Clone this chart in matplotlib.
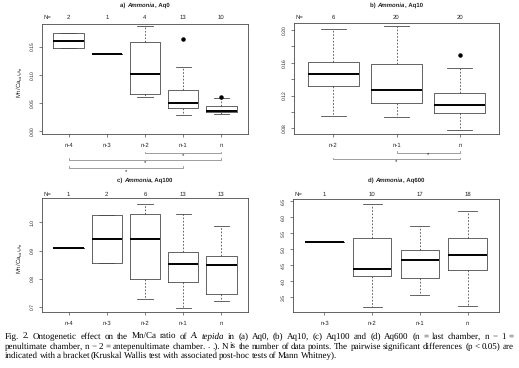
import matplotlib
matplotlib.use('Agg')
import matplotlib.pyplot as plt
from matplotlib import transforms

# ---------------- data ----------------
a_labels = ['n-4', 'n-3', 'n-2', 'n-1', 'n']
a_N = ['2', '1', '4', '13', '10']
a_lo = [0.1482, 0.1369, 0.0603, 0.0275, 0.0305]
a_q1 = [0.1482, 0.1369, 0.0657, 0.0406, 0.0341]
a_med = [0.1602, 0.1369, 0.1004, 0.0490, 0.0359]
a_q3 = [0.1733, 0.1369, 0.1584, 0.0735, 0.0442]
a_hi = [0.1733, 0.1369, 0.1865, 0.1135, 0.0586]
a_fliers = [[], [], [], [0.1631], [0.0610]]

b_labels = ['n-2', 'n-1', 'n']
b_N = ['6', '20', '20']
b_lo = [0.0950, 0.0938, 0.0784]
b_q1 = [0.1323, 0.1108, 0.0983]
b_med = [0.1469, 0.1266, 0.1080]
b_q3 = [0.1615, 0.1582, 0.1230]
b_hi = [0.2016, 0.2049, 0.1534]
b_fliers = [[], [], [0.1696]]

c_labels = ['n-4', 'n-3', 'n-2', 'n-1', 'n']
c_N = ['1', '2', '6', '13', '13']
c_lo = [0.9083, 0.8571, 0.7298, 0.6976, 0.7226]
c_q1 = [0.9083, 0.8571, 0.7976, 0.7869, 0.7476]
c_med = [0.9083, 0.9429, 0.9429, 0.8524, 0.8488]
c_q3 = [0.9083, 1.0262, 1.0286, 0.8964, 0.8821]
c_hi = [0.9083, 1.0262, 1.0667, 1.0298, 0.9893]
c_fliers = [[], [], [], [], []]

d_labels = ['n-3', 'n-2', 'n-1', 'n']
d_N = ['1', '10', '17', '18']
d_lo = [5.22, 3.19, 3.56, 3.22]
d_q1 = [5.22, 4.16, 4.10, 4.36]
d_med = [5.22, 4.385, 4.68, 4.83]
d_q3 = [5.22, 5.36, 4.98, 5.36]
d_hi = [5.22, 6.42, 5.73, 6.19]
d_fliers = [[], [], [], []]

a_yticks = [0.00, 0.05, 0.10, 0.15]
a_yticklabels = ['0.00', '0.05', '0.10', '0.15']
b_yticks = [0.08, 0.10, 0.12, 0.14, 0.16, 0.18, 0.20]
b_yticklabels = ['0.08', '', '0.12', '', '0.16', '', '0.20']
c_yticks = [0.7, 0.8, 0.9, 1.0]
c_yticklabels = ['0.7', '0.8', '0.9', '1.0']
d_yticks = [3.5, 4.0, 4.5, 5.0, 5.5, 6.0, 6.5]
d_yticklabels = ['3.5', '4.0', '4.5', '5.0', '5.5', '6.0', '6.5']

# significance brackets: (from, to) group positions
a_brackets = [(3, 5), (1, 5), (1, 4)]
b_brackets = [(2, 3), (1, 3)]

titles = [("a) ", "Ammonia", ", Aq0"), ("b) ", "Ammonia", ", Aq10"),
          ("c) ", "Ammonia", ", Aq100"), ("d) ", "Ammonia", ", Aq600")]

caption = [
    "Fig. 2. Ontogenetic effect on the Mn/Ca ratio of _A. _tepida in (a) Aq0, (b) Aq10, (c) Aq100 and (d) Aq600 (n = last chamber, n \u2212 1 =",
    "penultimate chamber, n \u2212 2 = antepenultimate chamber. . .). N is the number of data points. The pairwise significant differences (p < 0.05) are",
    "indicated with a bracket (Kruskal Wallis test with associated post-hoc tests of Mann Whitney).",
]

# ---------------- figure ----------------
W, H = 519, 368
plt.rcParams['font.family'] = ['Liberation Sans', 'DejaVu Sans']
plt.rcParams['mathtext.fontset'] = 'custom'
plt.rcParams['mathtext.rm'] = 'Liberation Sans'
plt.rcParams['mathtext.it'] = 'Liberation Sans:italic'
plt.rcParams['text.hinting'] = 'no_hinting'
plt.rcParams['text.hinting_factor'] = 1
fig = plt.figure(figsize=(W / 100, H / 100), dpi=100)
fig.patch.set_facecolor('white')
renderer = fig.canvas.get_renderer()

GRAY = '#4a4a4a'
TXT = '#222222'


def fx(px):
    return px / W


def fy(py):
    return 1 - py / H


def rich_center(parts, xc, yc, size):
    styles = [('bold', 'normal'), ('bold', 'italic'), ('bold', 'normal')]
    texts = []
    for p, (w, s) in zip(parts, styles):
        t = fig.text(0, fy(yc), p, fontsize=size, fontweight=w, fontstyle=s,
                     va='center', ha='left', color=TXT)
        texts.append(t)
    widths = [t.get_window_extent(renderer).width for t in texts]
    x = xc - sum(widths) / 2
    for t, w in zip(texts, widths):
        t.set_x(fx(x))
        x += w


def panel(rect, labels, N, lo, q1, med, q3, hi, fliers, ylim, xlim, yticks,
          yticklabels, title, title_y, n_y, ylabel, brackets=None):
    l, r, t, b = rect
    ax = fig.add_axes([fx(l), fy(b), (r - l) / W, (b - t) / H])
    pos = list(range(1, len(labels) + 1))
    stats = [dict(whislo=lo[i], q1=q1[i], med=med[i], q3=q3[i], whishi=hi[i],
                  fliers=fliers[i]) for i in range(len(labels))]
    ax.bxp(stats, positions=pos, widths=0.8, capwidths=0.4,
           boxprops=dict(color=GRAY, lw=0.6),
           medianprops=dict(color='black', lw=1.4, solid_capstyle='butt'),
           whiskerprops=dict(color=GRAY, lw=0.6, linestyle=(0, (2, 2))),
           capprops=dict(color=GRAY, lw=0.6),
           flierprops=dict(marker='o', markerfacecolor='black',
                           markeredgecolor='black', markersize=2.2))
    ax.set_xlim(*xlim)
    ax.set_ylim(*ylim)
    ax.set_xticks(pos)
    ax.set_xticklabels(labels)
    ax.set_yticks(yticks)
    ax.set_yticklabels(yticklabels, rotation=90, va='center')
    ax.tick_params(axis='x', length=2.2, width=0.5, labelsize=4.1, pad=4.2,
                   colors=GRAY, labelcolor=TXT)
    ax.tick_params(axis='y', length=2.2, width=0.5, labelsize=3.3, pad=3.2,
                   colors=GRAY, labelcolor=TXT)
    for sp in ax.spines.values():
        sp.set_color(GRAY)
        sp.set_linewidth(0.6)
    tr = transforms.blended_transform_factory(ax.transData, fig.transFigure)
    fig.text(fx(l + 5), fy(n_y), 'N=', fontsize=4.0, ha='center', va='center',
             color=TXT)
    for p, n in zip(pos, N):
        ax.text(p, fy(n_y), n, transform=tr, fontsize=4.1, ha='center',
                va='center', color=TXT, clip_on=False)
    rich_center(title, (l + r) / 2, title_y, 4.5)
    if ylabel:
        fig.text(fx(l - 23), fy((t + b) / 2 + 3), ylabel, fontsize=4.3,
                 rotation=90, ha='center', va='center', color=TXT)
    if brackets:
        for (i, j), yb, ys in brackets:
            ax.plot([i, i, j, j], [fy(yb - 1.6), fy(yb), fy(yb), fy(yb - 1.6)],
                    transform=tr, color='#777777', lw=0.5, clip_on=False)
            ax.text((i + j) / 2, fy(ys), '*', transform=tr, fontsize=4.0,
                    ha='center', va='center', color=TXT, clip_on=False)
    return ax


ylab = r'Mn/Ca$_{\mathrm{calcite}}$'

panel((42, 248, 24, 134), a_labels, a_N, a_lo, a_q1, a_med, a_q3, a_hi, a_fliers,
      (-0.0054, 0.19), (0.3, 5.7), a_yticks, a_yticklabels, titles[0], 5.5, 17,
      ylab, list(zip(a_brackets, [153.3, 160.0, 167.7], [156.0, 163.6, 172.0])))
panel((294, 499, 23, 134), b_labels, b_N, b_lo, b_q1, b_med, b_q3, b_hi, b_fliers,
      (0.0732, 0.2085), (0.38, 3.62), b_yticks, b_yticklabels, titles[1], 5.5, 17,
      None, list(zip(b_brackets, [152.7, 159.3], [155.6, 162.6])))
panel((42, 248, 198, 312), c_labels, c_N, c_lo, c_q1, c_med, c_q3, c_hi, c_fliers,
      (0.682, 1.087), (0.3, 5.7), c_yticks, c_yticklabels, titles[2], 180.5, 194,
      ylab)
panel((293, 499, 199, 312), d_labels, d_N, d_lo, d_q1, d_med, d_q3, d_hi, d_fliers,
      (3.04, 6.57), (0.34, 4.66), d_yticks, d_yticklabels, titles[3], 180.5, 194,
      None)

# ---------------- caption (justified) ----------------
CAP_FONT = ['Liberation Serif', 'DejaVu Serif']
cap_left, cap_right, cap_last_right = 5, 514, 337
cap_y = [336.7, 346.7, 355.7]
GAP_LAST = 1.6  # px between words on the last line


def split_words(line):
    out = []
    for w in line.split(' '):
        ital = w.startswith('_')
        out.append((w[1:] if ital else w, ital))
    return out


def word_widths(words, size):
    ws = []
    for w, ital in words:
        t = fig.text(0, 0, w, fontsize=size, family=CAP_FONT,
                     fontstyle='italic' if ital else 'normal')
        ws.append(t.get_window_extent(renderer).width)
        t.remove()
    return ws


last = split_words(caption[2])
s10 = sum(word_widths(last, 10))
cap_size = 10 * (cap_last_right - cap_left - GAP_LAST * (len(last) - 1)) / s10

for k, line in enumerate(caption):
    words = split_words(line)
    texts = []
    for w, ital in words:
        texts.append(fig.text(0, 0, w, fontsize=cap_size, family=CAP_FONT,
                              fontstyle='italic' if ital else 'normal',
                              ha='left', va='center', color='black'))
    widths = [t.get_window_extent(renderer).width for t in texts]
    right = cap_right if k < len(caption) - 1 else cap_last_right
    gap = (right - cap_left - sum(widths)) / (len(words) - 1)
    x = cap_left
    for t, w in zip(texts, widths):
        t.set_position((fx(x), fy(cap_y[k])))
        x += w + gap

fig.savefig('out.png', dpi=100, facecolor='white')
